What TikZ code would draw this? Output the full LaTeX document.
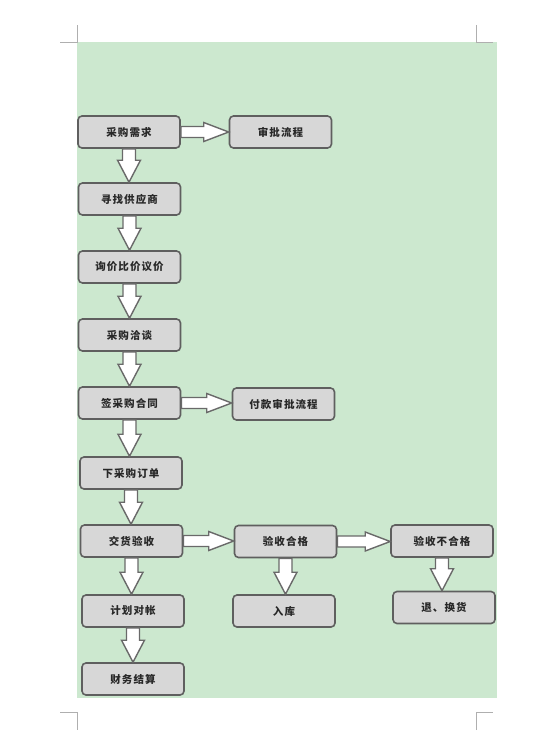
\documentclass[tikz,border=0pt]{standalone}
\usepackage{fontspec}
\newfontfamily\cjk{Noto Sans CJK SC}[LetterSpace=10]
\usetikzlibrary{calc}
\usetikzlibrary{positioning}
\definecolor{pagegreen}{RGB}{204,232,207}
\definecolor{boxfill}{RGB}{215,215,215}
\definecolor{boxline}{RGB}{95,95,95}
\definecolor{arrline}{RGB}{105,105,105}
\definecolor{markgray}{RGB}{175,175,175}
\definecolor{txtgray}{RGB}{40,40,40}
\tikzset{>=latex}

\begin{document}
\begin{tikzpicture}[x=1pt,y=1pt,
    box/.style={draw=boxline, fill=boxfill, line width=1.6pt, rounded corners=4pt,
      minimum width=102pt, minimum height=32pt, inner sep=0pt, text=txtgray,
      font=\cjk\bfseries\fontsize{10.5}{12}\selectfont},
    blkdown/.style={draw=arrline, fill=white, line width=1.4pt, line join=miter,
      to path={let \p1=(\tikztostart.south), \p2=(\tikztotarget.north) in
        (\x1-6.5pt,\y1) -- (\x1-6.5pt,\y2+22pt) -- (\x1-11.5pt,\y2+22pt) -- (\x1,\y2)
        -- (\x1+11.5pt,\y2+22pt) -- (\x1+6.5pt,\y2+22pt) -- (\x1+6.5pt,\y1) -- cycle}},
    blkright/.style={draw=arrline, fill=white, line width=1.4pt, line join=miter,
      to path={let \p1=(\tikztostart.east), \p2=(\tikztotarget.west) in
        (\x1,\y1+5.5pt) -- (\x2-25pt,\y1+5.5pt) -- (\x2-25pt,\y1+9.5pt) -- (\x2,\y1)
        -- (\x2-25pt,\y1-9.5pt) -- (\x2-25pt,\y1-5.5pt) -- (\x1,\y1-5.5pt) -- cycle}},
    cropmark/.style={draw=markgray, line width=0.6pt},
    node distance=68pt, on grid]
  \useasboundingbox (0,0) rectangle (552,-733);
  \fill[pagegreen] (77,-42) rectangle (497,-698);
  % crop marks
  \draw[cropmark] (60,-42) -- (77,-42) -- (77,-25);
  \draw[cropmark] (476,-25) -- (476,-42) -- (493,-42);
  \draw[cropmark] (60,-712) -- (77,-712) -- (77,-730);
  \draw[cropmark] (476,-730) -- (476,-712) -- (493,-712);

  \node[box] (b0) at (129,-132) {采购需求};
  \node[box] (b1) [below=67pt of b0, xshift=0.5pt] {寻找供应商};
  \node[box] (b2) [below=of b1] {询价比价议价};
  \node[box] (b3) [below=of b2] {采购洽谈};
  \node[box] (b4) [below=of b3] {签采购合同};
  \node[box] (b5) [below=70pt of b4, xshift=1.5pt] {下采购订单};
  \node[box] (b6) [below=of b5, xshift=0.5pt] {交货验收};
  \node[box] (b7) [below=70pt of b6, xshift=1.5pt] {计划对帐};
  \node[box] (b8) [below=of b7] {财务结算};
  \node[box] (r0) at (280.5,-132) {审批流程};
  \node[box] (r1) at (283.5,-404) {付款审批流程};
  \node[box] (r2) at (285.5,-541.5) {验收合格};
  \node[box] (r3) at (442,-541) {验收不合格};
  \node[box] (r4) at (284,-611) {入库};
  \node[box] (r5) at (444,-607.5) {退、换货};

  \path
    (b0) edge[blkdown] (b1) edge[blkright] (r0)
    (b1) edge[blkdown] (b2)
    (b2) edge[blkdown] (b3)
    (b3) edge[blkdown] (b4)
    (b4) edge[blkdown] (b5) edge[blkright] (r1)
    (b5) edge[blkdown] (b6)
    (b6) edge[blkdown] (b7) edge[blkright] (r2)
    (b7) edge[blkdown] (b8)
    (r2) edge[blkdown] (r4) edge[blkright] (r3)
    (r3) edge[blkdown] (r5);
\end{tikzpicture}
\end{document}
